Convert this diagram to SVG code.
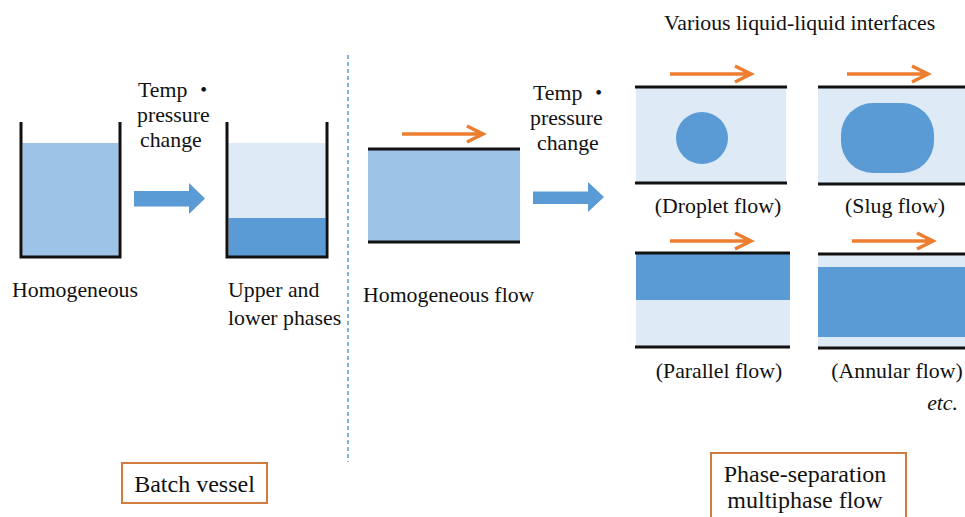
<svg xmlns="http://www.w3.org/2000/svg" xmlns:xlink="http://www.w3.org/1999/xlink" width="965" height="517" viewBox="0 0 965 517">
<style>
text{font-family:'Liberation Serif','Times New Roman',Times,serif;font-size:21.8px;fill:#111}
.cjk{font-family:'Noto Sans CJK JP',sans-serif}
.big{font-size:24px}
.wall{fill:none;stroke:#111;stroke-width:3}
.pl{stroke:#111;stroke-width:3}
.mid{fill:#9dc3e6}
.lt{fill:#deebf7}
.dk{fill:#5b9bd5}
.oa{fill:none;stroke:#ed7d31;stroke-width:3.5}
.box{fill:#fff;stroke:#d27b3f;stroke-width:2}
</style>
<defs>
<g id="orangeArrow"><path class="oa" d="M0,0 H80 M65,-8 L81,0 L65,8"/></g>
</defs>
<rect width="965" height="517" fill="#fff"/>

<g id="divider"><line x1="348" y1="55" x2="348" y2="462" stroke="#5b9bd5" stroke-width="1.5" stroke-dasharray="4,3"/></g>

<g id="vessel-homogeneous">
<rect class="mid" x="22.5" y="143" width="96" height="113"/>
<path class="wall" d="M21,122 V257 H120 V122"/>
<text x="12" y="297">Homogeneous</text>
</g>

<g id="vessel-separated">
<rect class="lt" x="228.5" y="143" width="97" height="75"/>
<rect class="dk" x="228.5" y="218" width="97" height="38"/>
<path class="wall" d="M227,122 V257 H327 V122"/>
<text x="228" y="297">Upper and</text>
<text x="228" y="325">lower phases</text>
</g>

<g id="flow-homogeneous">
<rect class="mid" x="368" y="150" width="152" height="91"/>
<line class="pl" x1="368" y1="149" x2="520" y2="149"/>
<line class="pl" x1="368" y1="242" x2="520" y2="242"/>
<use xlink:href="#orangeArrow" x="402" y="134"/>
<text x="363" y="302">Homogeneous flow</text>
</g>

<g id="connectors">
<polygon class="dk" points="134,191 189,191 189,183 205,198.5 189,214 189,206.5 134,206.5"/>
<polygon class="dk" points="533,191.5 588,191.5 588,182 604,197 588,212 588,204 533,204"/>
</g>

<g id="label-change-1">
<text x="138" y="97">Temp <tspan class="cjk">・</tspan></text>
<text x="137" y="122">pressure</text>
<text x="140" y="147">change</text>
</g>
<g id="label-change-2">
<text x="533" y="100">Temp <tspan class="cjk">・</tspan></text>
<text x="530" y="125">pressure</text>
<text x="537" y="150">change</text>
</g>

<text x="664" y="30">Various liquid-liquid interfaces</text>

<g id="droplet-flow">
<rect class="lt" x="636" y="88" width="150" height="94"/>
<circle class="dk" cx="702" cy="138" r="26"/>
<line class="pl" x1="635" y1="87" x2="787" y2="87"/>
<line class="pl" x1="635" y1="183" x2="787" y2="183"/>
<use xlink:href="#orangeArrow" x="670" y="74"/>
<text x="718" y="213" text-anchor="middle">(Droplet flow)</text>
</g>

<g id="slug-flow">
<rect class="lt" x="818" y="88" width="147" height="95"/>
<rect class="dk" x="841" y="103" width="93" height="70" rx="32" ry="32"/>
<line class="pl" x1="818" y1="87" x2="965" y2="87"/>
<line class="pl" x1="818" y1="184" x2="965" y2="184"/>
<use xlink:href="#orangeArrow" x="847" y="74"/>
<text x="895" y="213" text-anchor="middle">(Slug flow)</text>
</g>

<g id="parallel-flow">
<rect class="dk" x="636" y="254" width="154" height="46"/>
<rect class="lt" x="636" y="300" width="154" height="46"/>
<line class="pl" x1="635" y1="253" x2="790" y2="253"/>
<line class="pl" x1="635" y1="347" x2="790" y2="347"/>
<use xlink:href="#orangeArrow" x="670" y="241"/>
<text x="719" y="378" text-anchor="middle">(Parallel flow)</text>
</g>

<g id="annular-flow">
<rect class="lt" x="818" y="255" width="147" height="92"/>
<rect class="dk" x="818" y="267" width="147" height="70"/>
<line class="pl" x1="818" y1="254" x2="965" y2="254"/>
<line class="pl" x1="818" y1="348" x2="965" y2="348"/>
<use xlink:href="#orangeArrow" x="852" y="241"/>
<text x="897" y="378" text-anchor="middle">(Annular flow)</text>
</g>

<text x="958" y="410" text-anchor="end" font-style="italic">etc.</text>

<g id="box-batch">
<rect class="box" x="122" y="463" width="145" height="40"/>
<text class="big" x="194.5" y="492" text-anchor="middle">Batch vessel</text>
</g>

<g id="box-multiphase">
<rect class="box" x="711" y="453" width="195" height="80"/>
<text class="big" x="805" y="482" text-anchor="middle">Phase-separation</text>
<text class="big" x="805" y="508" text-anchor="middle">multiphase flow</text>
</g>
</svg>
